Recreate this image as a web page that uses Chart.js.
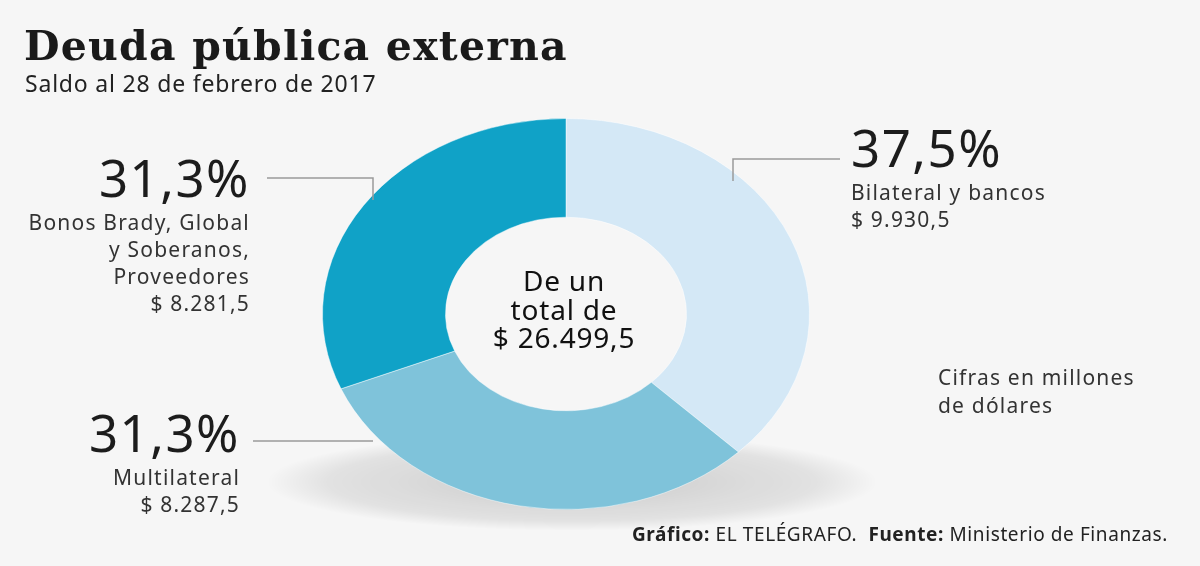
<!DOCTYPE html>
<html>
<head>
<meta charset="utf-8">
<script src="https://cdn.jsdelivr.net/npm/chart.js@4.4.0/dist/chart.umd.min.js"></script>
<style>
body { margin: 0; background: #f6f6f6; }
#wrap { position: relative; width: 1200px; height: 566px; overflow: hidden; }
#wrap canvas, #wrap svg { position: absolute; left: 0; top: 0; }
svg text { font-family: 'Noto Sans', sans-serif; white-space: pre; }
</style>
</head>
<body>
<div id="wrap">
  <canvas id="deuda" width="1200" height="566"></canvas>
  <svg id="txt" width="1200" height="566"></svg>
</div>
<script>
// datos (millones de dolares, saldo al 28-02-2017)
const categorias = ['Bilateral y bancos', 'Multilateral', 'Bonos Brady, Global y Soberanos, Proveedores'];
const lineas = [['Bilateral y bancos'], ['Multilateral'], ['Bonos Brady, Global', 'y Soberanos,', 'Proveedores']];
const montos = [9930.5, 8287.5, 8281.5];
const colores = ['#d4e8f6', '#7fc3da', '#10a2c7'];

const total = montos.reduce((a, b) => a + b, 0);

function dinero(v) {
    let [e, d] = v.toFixed(1).split('.');
    e = e.replace(/\B(?=(\d{3})+(?!\d))/g, '.');
    return '$ ' + e + ',' + d;
}
function pct(v) {
    return (v / total * 100).toFixed(1).replace('.', ',') + '%';
}

// donde va cada etiqueta (x, alineacion, base del porcentaje)
const etiq = [
    {x: 851, anchor: 'start', y: 167},
    {x: 240, anchor: 'end', y: 452},
    {x: 250, anchor: 'end', y: 197},
];

const elipse = {
    id: 'elipse',
    beforeDatasetsDraw(chart) {
        const arc = chart.getDatasetMeta(0).data[0];
        const ctx = chart.ctx;
        // sombra
        ctx.save();
        ctx.translate(arc.x + 6, arc.y + 168);
        ctx.scale(1, 0.16);
        const g = ctx.createRadialGradient(0, 0, 0, 0, 0, 305);
        g.addColorStop(0, 'rgba(0,0,0,0.18)');
        g.addColorStop(0.8, 'rgba(0,0,0,0.08)');
        g.addColorStop(1, 'rgba(0,0,0,0)');
        ctx.fillStyle = g;
        ctx.beginPath();
        ctx.arc(0, 0, 305, 0, Math.PI * 2);
        ctx.fill();
        ctx.restore();
        // aro achatado
        ctx.save();
        ctx.translate(arc.x, arc.y);
        ctx.scale(1, 0.803);
        ctx.translate(-arc.x, -arc.y);
    },
    afterDatasetsDraw(chart) {
        chart.ctx.restore();
    }
};

new Chart(document.getElementById('deuda').getContext('2d'), {
    type: 'doughnut',
    data: {
        labels: categorias,
        datasets: [{
            data: montos,
            backgroundColor: colores,
            borderColor: 'rgba(255,255,255,0.5)',
            borderWidth: 1,
        }],
    },
    options: {
        responsive: false,
        animation: false,
        cutout: '49.5%',
        layout: {padding: {left: 322, right: 390, top: 70, bottom: 8}},
        plugins: {legend: {display: false}, tooltip: {enabled: false}},
    },
    plugins: [elipse],
});

// textos
const svg = document.getElementById('txt');
function txt(s, x, y, attrs) {
    const t = document.createElementNS('http://www.w3.org/2000/svg', 'text');
    t.setAttribute('x', x);
    t.setAttribute('y', y);
    for (let k in attrs) t.setAttribute(k, attrs[k]);
    t.textContent = s;
    svg.appendChild(t);
    return t;
}
function linea(pts) {
    const p = document.createElementNS('http://www.w3.org/2000/svg', 'polyline');
    p.setAttribute('points', pts);
    p.setAttribute('fill', 'none');
    p.setAttribute('stroke', '#9a9a9a');
    p.setAttribute('stroke-width', '1.5');
    svg.appendChild(p);
}

txt('Deuda pública externa', 24, 60, {'font-weight': 'bold', 'font-size': 41, fill: '#1a1a1a', 'letter-spacing': 1.2, style: 'font-family:"DejaVu Serif"'});
txt('Saldo al 28 de febrero de 2017', 25, 92, {'font-size': 23, fill: '#222', 'letter-spacing': 0.8});

linea('733,181 733,159 840,159');
linea('267,178 373,178 373,200');
linea('253,441 373,441');

for (let i in montos) {
    const e = etiq[i];
    txt(pct(montos[i]), e.x, e.y, {'font-size': 51, fill: '#1c1c1c', 'text-anchor': e.anchor, 'letter-spacing': 1.5});
    let y = e.y + 33;
    for (let l of lineas[i].concat([dinero(montos[i])])) {
        txt(l, e.x, y, {'font-size': 21, fill: '#333', 'text-anchor': e.anchor, 'letter-spacing': 1.2});
        y += 27;
    }
}

const centro = {'font-size': 28, fill: '#111', 'text-anchor': 'middle', 'letter-spacing': 0.8};
txt('De un', 564, 291, centro);
txt('total de', 564, 320, centro);
txt(dinero(total), 564, 348, centro);

txt('Cifras en millones', 938, 385, {'font-size': 21, fill: '#333', 'letter-spacing': 1.2});
txt('de dólares', 938, 413, {'font-size': 21, fill: '#333', 'letter-spacing': 1.2});

const pie = txt('', 1168, 541, {'font-size': 19, fill: '#222', 'text-anchor': 'end', 'letter-spacing': 0.6});
pie.innerHTML = '<tspan font-weight="bold">Gráfico:</tspan> EL TELÉGRAFO.  <tspan font-weight="bold">Fuente:</tspan> Ministerio de Finanzas.';
</script>
</body>
</html>
